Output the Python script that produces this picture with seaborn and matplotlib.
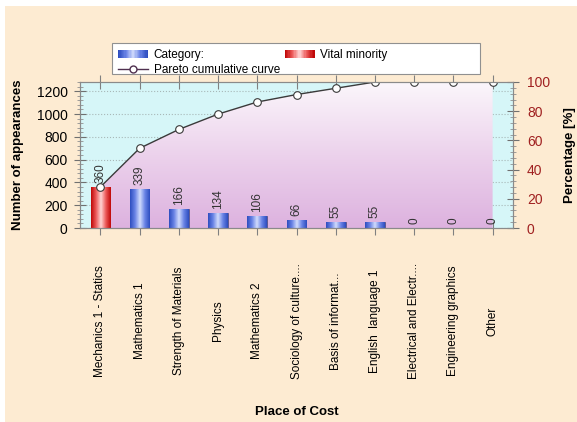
import numpy as np
import matplotlib
matplotlib.use('Agg')
import matplotlib.pyplot as plt
from matplotlib.colors import LinearSegmentedColormap
from matplotlib.patches import Rectangle, Patch
from matplotlib.lines import Line2D
from matplotlib.legend_handler import HandlerBase
from matplotlib.ticker import MultipleLocator
import seaborn as sns

categories = ['Mechanics 1 - Statics', 'Mathematics 1', 'Strength of Materials', 'Physics',
              'Mathematics 2', 'Sociology of culture....', 'Basis of informat...',
              'English  language 1', 'Electrical and Electr....', 'Engineering graphics', 'Other']
counts = [360, 339, 166, 134, 106, 66, 55, 55, 0, 0, 0]
groups = ['Vital minority', 'Category', 'Category', 'Category', 'Category', 'Category',
          'Category', 'Category', 'Category', 'Category', 'Category']
cum_pct = [28.1, 54.6, 67.5, 78.0, 86.3, 91.4, 95.7, 100, 100, 100, 100]
total = 1281
left_ticks = [0, 200, 400, 600, 800, 1000, 1200]
right_ticks = [0, 20, 40, 60, 80, 100]

plt.rcParams['font.family'] = ['Liberation Sans', 'DejaVu Sans']

beige = '#FDEBD2'
cyan = '#D6F6F8'
blue_cm = LinearSegmentedColormap.from_list('b', ['#2E4EC0', '#6A84E6', '#D2DCFC', '#6A84E6', '#2E4EC0'])
red_cm = LinearSegmentedColormap.from_list('r', ['#C00808', '#EC5A5A', '#FFD6D6', '#EC5A5A', '#C00808'])
pink_cm = LinearSegmentedColormap.from_list('p', ['#DDB2DF', '#ECD2EC', '#FBF6FB'])

fig = plt.figure(figsize=(5.77, 4.22), dpi=100)
fig.patch.set_facecolor('white')
fig.patches.append(Rectangle((5 / 577, 0), 1, 1 - 6 / 422, transform=fig.transFigure,
                             facecolor=beige, edgecolor='none', zorder=-10))

ax = fig.add_axes([80 / 577, 1 - 228 / 422, 433 / 577, 146 / 422])
ax.set_facecolor(cyan)
ax2 = ax.twinx()

sns.barplot(x=categories, y=counts, hue=groups, dodge=False, width=0.5, legend=False,
            palette={'Vital minority': '#D81818', 'Category': '#5070D8'},
            edgecolor='#303060', linewidth=0.4, ax=ax, zorder=2)

# gradient fill for the bars
grad = np.linspace(0, 1, 64).reshape(1, -1)
for p, g in zip(ax.patches, groups):
    h = p.get_height()
    if h <= 0:
        continue
    x0 = p.get_x()
    w = p.get_width()
    im = ax.imshow(grad, extent=(x0, x0 + w, 0, h), aspect='auto', zorder=2.1,
                   cmap=red_cm if g == 'Vital minority' else blue_cm)
    im.set_clip_path(p)

for i, c in enumerate(counts):
    ax.annotate(str(c), (i, c), xytext=(0, 3), textcoords='offset points', rotation=90,
                ha='center', va='bottom', fontsize=8.5, color='#333333', zorder=5)

# area under the cumulative curve
xs = np.arange(len(categories))
poly = ax.fill_between(xs, cum_pct, 0, transform=ax2.transData, facecolor='none',
                       edgecolor='none', zorder=0.8)
bg = ax.imshow(np.linspace(0, 1, 128).reshape(-1, 1), extent=(0, len(xs) - 1, 0, 100),
               origin='lower', aspect='auto', cmap=pink_cm, transform=ax2.transData, zorder=0.8)
bg.set_clip_path(poly.get_paths()[0], ax2.transData)

ax2.plot(xs, cum_pct, color='#3A3A3A', lw=1, marker='o', markersize=5.5,
         markerfacecolor='white', markeredgecolor='#3A3A3A', markeredgewidth=0.8)

ax.set_xlim(-0.52, len(categories) - 0.48)
ax.set_ylim(0, total)
ax2.set_ylim(0, 100)
ax.set_yticks(left_ticks)
ax.yaxis.set_minor_locator(MultipleLocator(40))
ax2.set_yticks(right_ticks)
ax2.yaxis.set_minor_locator(MultipleLocator(4))

ax.set_axisbelow(True)
ax.grid(axis='y', color='#A8B8B8', linestyle=':', linewidth=0.8)
ax.grid(axis='x', visible=False)

for a in (ax, ax2):
    for s in a.spines.values():
        s.set_color('#8A8A8A')
        s.set_linewidth(0.8)

ax.tick_params(axis='x', which='both', direction='inout', length=10, color='#808080',
               top=True, bottom=True, pad=62)
ax.set_xticks(xs)
ax.set_xticklabels(categories, rotation=90, va='center', ha='center', fontsize=8.5)
ax.tick_params(axis='y', which='major', direction='inout', length=8, color='#707070',
               labelsize=10, pad=5)
ax.tick_params(axis='y', which='minor', direction='inout', length=4, color='#909090')
ax2.tick_params(axis='y', which='major', direction='inout', length=8, color='#707070',
                labelsize=10, labelcolor='#A02020', pad=6)
ax2.tick_params(axis='y', which='minor', direction='inout', length=4, color='#909090')

ax.set_xlabel('Place of Cost', fontsize=9.5, fontweight='bold')
ax.xaxis.set_label_coords(0.5, (228 - 412) / 146)
ax.xaxis.label.set_va('center')
ax.set_ylabel('Number of appearances', fontsize=9.5, fontweight='bold')
ax.yaxis.set_label_coords((18 - 80) / 433, 0.5)
ax.yaxis.label.set_va('center')
ax2.set_ylabel('Percentage [%]', fontsize=9.5, fontweight='bold')
ax2.yaxis.set_label_coords((570 - 80) / 433, 0.5)
ax2.yaxis.label.set_va('center')


class GradientHandler(HandlerBase):
    def __init__(self, cmap):
        super().__init__()
        self.cmap = cmap

    def create_artists(self, legend, orig_handle, xdescent, ydescent, width, height,
                       fontsize, trans):
        n = 24
        out = []
        for k in range(n):
            out.append(Rectangle((-xdescent + k * width / n, -ydescent), width / n + 0.3, height,
                                 facecolor=self.cmap(k / (n - 1)), edgecolor='none',
                                 transform=trans))
        return out


h_cat = Patch(label='Category:')
h_vit = Patch(label='Vital minority')
h_line = Line2D([], [], color='#503050', lw=1, marker='o', markersize=5,
                markerfacecolor='white', markeredgecolor='#503050', label='Pareto cumulative curve')

fig.patches.append(Rectangle((112 / 577, 1 - 74 / 422), 368 / 577, 31 / 422,
                             transform=fig.transFigure, facecolor='white',
                             edgecolor='#909090', linewidth=0.8, zorder=1))
fig.legend([h_cat, h_line, h_vit], ['Category:', 'Pareto cumulative curve', 'Vital minority'],
           handler_map={h_cat: GradientHandler(blue_cm), h_vit: GradientHandler(red_cm)},
           loc='upper left', bbox_to_anchor=(110 / 577, 1 - 41 / 422), ncol=2,
           frameon=False, fontsize=8.5, handlelength=2.5, handletextpad=0.5,
           columnspacing=0.4, labelspacing=0.25, borderpad=0.2)

fig.savefig('out.png', dpi=100, facecolor=fig.get_facecolor())
